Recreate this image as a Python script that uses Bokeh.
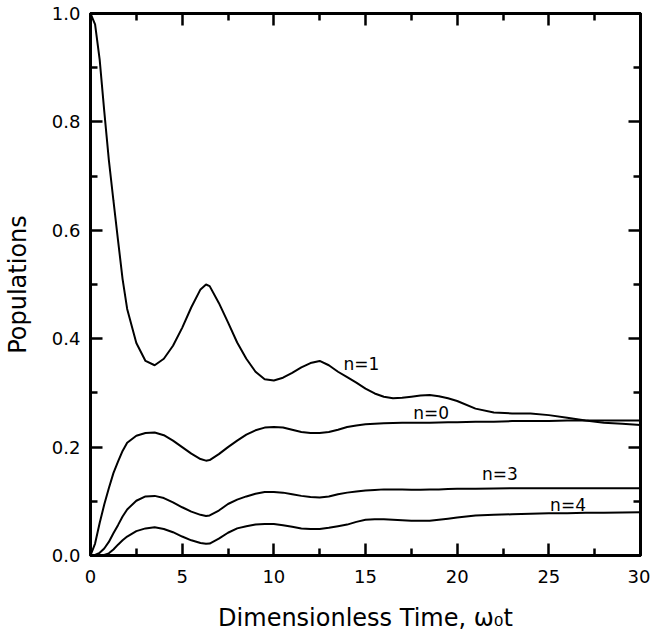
from bokeh.plotting import figure
from bokeh.models import FixedTicker, LinearAxis, Range1d, NumeralTickFormatter
from bokeh.core.properties import value
from bokeh.embed import file_html
from bokeh.resources import INLINE

# ---- data ----
time = [0, 0.25, 0.5, 0.75, 1, 1.25, 1.5, 1.75, 2, 2.5, 3, 3.5, 4, 4.5, 5, 5.5, 6, 6.3,
        6.5, 7, 7.5, 8, 8.5, 9, 9.5, 10, 10.5, 11, 11.5, 12, 12.5, 13, 13.5, 14, 14.5,
        15, 15.5, 16, 16.5, 17, 17.5, 18, 18.5, 19, 19.5, 20, 21, 22, 23, 24, 25, 26,
        27, 28, 29, 30]

pop_n1 = [1.0, 0.98, 0.915, 0.82, 0.73, 0.655, 0.582, 0.51, 0.455, 0.392, 0.359, 0.351,
          0.363, 0.387, 0.42, 0.458, 0.491, 0.50, 0.497, 0.466, 0.43, 0.393, 0.363, 0.339,
          0.325, 0.323, 0.328, 0.337, 0.347, 0.355, 0.359, 0.351, 0.339, 0.329, 0.319,
          0.308, 0.299, 0.293, 0.290, 0.291, 0.293, 0.295, 0.296, 0.294, 0.290, 0.285,
          0.271, 0.264, 0.262, 0.262, 0.259, 0.254, 0.249, 0.245, 0.243, 0.241]

pop_n0 = [0.0, 0.022, 0.06, 0.094, 0.124, 0.152, 0.173, 0.193, 0.208, 0.221, 0.226, 0.227,
          0.222, 0.212, 0.2, 0.188, 0.178, 0.175, 0.176, 0.187, 0.2, 0.212, 0.223, 0.231,
          0.236, 0.237, 0.236, 0.232, 0.228, 0.226, 0.226, 0.228, 0.232, 0.237, 0.24,
          0.242, 0.243, 0.244, 0.2445, 0.245, 0.245, 0.245, 0.245, 0.2455, 0.246, 0.246,
          0.247, 0.247, 0.248, 0.248, 0.248, 0.249, 0.249, 0.249, 0.249, 0.249]

pop_n3 = [0.0, 0.001, 0.005, 0.013, 0.025, 0.041, 0.056, 0.072, 0.085, 0.101, 0.109, 0.11,
          0.106, 0.098, 0.089, 0.081, 0.075, 0.073, 0.074, 0.083, 0.095, 0.103, 0.109,
          0.114, 0.117, 0.117, 0.116, 0.113, 0.11, 0.108, 0.107, 0.109, 0.113, 0.116,
          0.118, 0.12, 0.121, 0.122, 0.122, 0.122, 0.1215, 0.1215, 0.122, 0.122, 0.1225,
          0.123, 0.123, 0.1235, 0.124, 0.124, 0.124, 0.124, 0.124, 0.124, 0.124, 0.124]

pop_n4 = [0.0, 0.0, 0.0, 0.001, 0.004, 0.011, 0.02, 0.028, 0.035, 0.045, 0.05, 0.052,
          0.049, 0.043, 0.035, 0.028, 0.023, 0.0215, 0.022, 0.031, 0.042, 0.05, 0.054,
          0.057, 0.058, 0.058, 0.056, 0.053, 0.05, 0.049, 0.049, 0.051, 0.054, 0.057,
          0.062, 0.066, 0.067, 0.067, 0.066, 0.065, 0.064, 0.064, 0.064, 0.066, 0.068,
          0.07, 0.074, 0.075, 0.076, 0.077, 0.078, 0.078, 0.079, 0.079, 0.0795, 0.08]

label_text = ["n=1", "n=0", "n=3", "n=4"]
label_x = [13.8, 17.6, 21.35, 25.07]
label_y = [0.3536, 0.2628, 0.1505, 0.0939]

x_major = [0, 5, 10, 15, 20, 25, 30]
x_minor = [2.5, 7.5, 12.5, 17.5, 22.5, 27.5]
y_major = [0.0, 0.2, 0.4, 0.6, 0.8, 1.0]
y_minor = [0.1, 0.3, 0.5, 0.7, 0.9]

FONT = "DejaVu Sans"

p = figure(width=650, height=640, x_range=Range1d(0, 30), y_range=Range1d(0, 1.0),
           output_backend="svg", toolbar_location=None,
           min_border_left=90, min_border_right=10, min_border_top=13, min_border_bottom=85,
           x_axis_label="Dimensionless Time, \u03c9\u2080t", y_axis_label="Populations")
p.grid.visible = False
p.outline_line_color = "black"
p.outline_line_width = 3
p.background_fill_color = "white"
p.border_fill_color = "white"

bottom = p.below[0]
left = p.left[0]

xt = FixedTicker(ticks=x_major, minor_ticks=x_minor)
yt = FixedTicker(ticks=y_major, minor_ticks=y_minor)
bottom.ticker = xt
left.ticker = yt
left.formatter = NumeralTickFormatter(format="0.0")

top = LinearAxis(ticker=xt, major_label_overrides={v: "" for v in x_major},
                 major_label_standoff=0, major_label_text_font_size="1px")
right = LinearAxis(ticker=yt, major_label_overrides={v: "" for v in y_major},
                   major_label_standoff=0, major_label_text_font_size="1px")
p.add_layout(top, "above")
p.add_layout(right, "right")

for ax in (bottom, left, top, right):
    ax.axis_line_width = 3
    ax.axis_line_color = "black"
    ax.major_tick_in = 12
    ax.major_tick_out = 0
    ax.minor_tick_in = 7
    ax.minor_tick_out = 0
    ax.major_tick_line_width = 2.5
    ax.minor_tick_line_width = 2.5
    ax.major_tick_line_color = "black"
    ax.minor_tick_line_color = "black"

for ax in (bottom, left):
    ax.major_label_text_font = FONT
    ax.major_label_text_font_size = "18px"
    ax.major_label_text_color = "black"
    ax.axis_label_text_font = FONT
    ax.axis_label_text_font_size = "24px"
    ax.axis_label_text_font_style = "normal"
    ax.axis_label_text_color = "black"

bottom.major_label_standoff = 14
bottom.axis_label_standoff = 18
left.major_label_standoff = 10
left.axis_label_standoff = 17

for ys in (pop_n1, pop_n0, pop_n3, pop_n4):
    p.line(time, ys, line_color="black", line_width=2)

p.text(x=label_x, y=label_y, text=label_text, text_font=value(FONT),
       text_font_size="17px", text_baseline="middle", text_align="left",
       text_color="black")

open("out.html", "w").write(file_html(p, INLINE))
